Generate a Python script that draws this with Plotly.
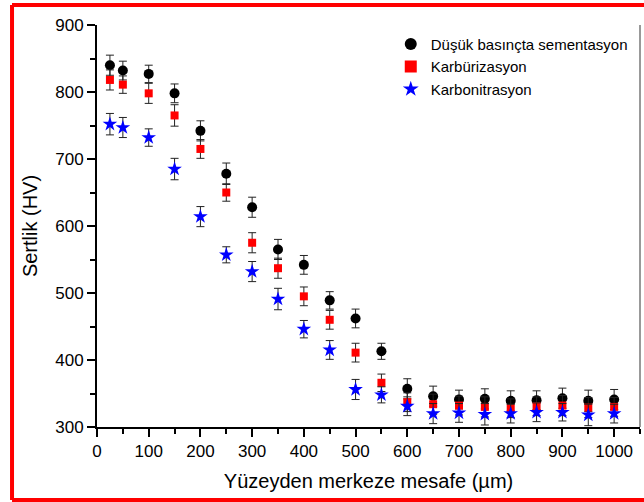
import plotly.graph_objects as go

distance = [25, 50, 100, 150, 200, 250, 300, 350, 400, 450, 500, 550, 600,
            650, 700, 750, 800, 850, 900, 950, 1000]

lp_carb = [840, 832, 827, 798, 742, 678, 628, 565, 542, 489, 462, 413, 357,
           346, 341, 342, 339, 340, 343, 339, 341]
lp_carb_err = [15, 14, 13, 14, 15, 16, 15, 15, 14, 13, 14, 12, 15,
               15, 14, 15, 15, 14, 15, 16, 15]

carburizing = [818, 811, 798, 765, 715, 650, 575, 537, 495, 460, 411, 366, 337,
               334, 332, 330, 328, 331, 332, 329, 330]
carburizing_err = [15, 13, 15, 16, 14, 13, 15, 15, 14, 14, 14, 13, 14,
                   15, 14, 15, 14, 14, 15, 15, 14]

carbonitriding = [752, 747, 732, 685, 614, 557, 532, 491, 446, 415, 356, 348, 331,
                  320, 321, 319, 320, 322, 322, 318, 320]
carbonitriding_err = [16, 15, 13, 16, 15, 12, 15, 16, 13, 14, 15, 12, 14,
                      15, 14, 16, 14, 14, 13, 16, 14]

names = ["Düşük basınçta sementasyon", "Karbürizasyon", "Karbonitrasyon"]
x_ticks = [0, 100, 200, 300, 400, 500, 600, 700, 800, 900, 1000]
y_ticks = [300, 400, 500, 600, 700, 800, 900]

FONT = "Liberation Sans, Arial, sans-serif"

fig = go.Figure()
series = [
    (lp_carb, lp_carb_err, names[0], "circle", "black", 10),
    (carburizing, carburizing_err, names[1], "square", "#ff0000", 8),
    (carbonitriding, carbonitriding_err, names[2], "star", "#0000ff", 11),
]
for y, e, name, sym, col, size in series:
    fig.add_trace(go.Scatter(
        x=distance, y=y, mode="markers", name=name,
        marker=dict(symbol=sym, color=col, size=size, line=dict(width=0)),
        error_y=dict(type="data", array=e, visible=True, color="#222222",
                     thickness=1, width=4),
    ))

RED = dict(color="#ff0000", width=4)
fx0, fx1, fy0, fy1 = -0.1565, 1.0075, -0.1816, 1.0498

fig.update_layout(
    width=644, height=502,
    margin=dict(l=97, r=4, t=25, b=75),
    paper_bgcolor="white", plot_bgcolor="white",
    font=dict(family=FONT, color="black"),
    showlegend=True,
    legend=dict(x=0.541, y=0.993, xanchor="left", yanchor="top",
                bgcolor="rgba(0,0,0,0)", font=dict(size=15, family=FONT),
                tracegroupgap=0, itemsizing="constant", itemwidth=30),
    xaxis=dict(
        range=[0, 1050], tickvals=x_ticks, showgrid=False, zeroline=False,
        showline=True, linecolor="black", linewidth=2,
        ticks="outside", ticklen=8, tickwidth=1.5, tickcolor="black",
        minor=dict(dtick=50, tick0=0, ticks="outside", ticklen=5,
                   tickwidth=1.5, tickcolor="black", showgrid=False),
        tickfont=dict(size=17, family=FONT),
        title=dict(text="Yüzeyden merkeze mesafe (µm)",
                   font=dict(size=20, family=FONT), standoff=14),
        automargin=False,
    ),
    yaxis=dict(
        range=[300, 900], tickvals=y_ticks, showgrid=False, zeroline=False,
        showline=True, linecolor="black", linewidth=2,
        ticks="outside", ticklen=8, tickwidth=1.5, tickcolor="black",
        minor=dict(dtick=50, tick0=300, ticks="outside", ticklen=5,
                   tickwidth=1.5, tickcolor="black", showgrid=False),
        tickfont=dict(size=17, family=FONT),
        title=dict(text="Sertlik (HV)", font=dict(size=20, family=FONT),
                   standoff=12),
        automargin=False,
    ),
    shapes=[
        dict(type="line", xref="paper", yref="paper", x0=1, x1=1, y0=0, y1=1,
             line=dict(color="#777777", width=1.5)),
        dict(type="line", xref="paper", yref="paper",
             x0=fx0, x1=fx0, y0=fy0, y1=fy1, line=RED, layer="above"),
        dict(type="line", xref="paper", yref="paper",
             x0=fx0, x1=fx1, y0=fy1, y1=fy1, line=RED, layer="above"),
        dict(type="line", xref="paper", yref="paper",
             x0=fx0, x1=fx1, y0=fy0, y1=fy0, line=RED, layer="above"),
    ],
)

fig.write_html("out.html",
               config={"displayModeBar": False},
               post_script="document.body.style.margin='0';"
                           "document.body.style.padding='0';")
